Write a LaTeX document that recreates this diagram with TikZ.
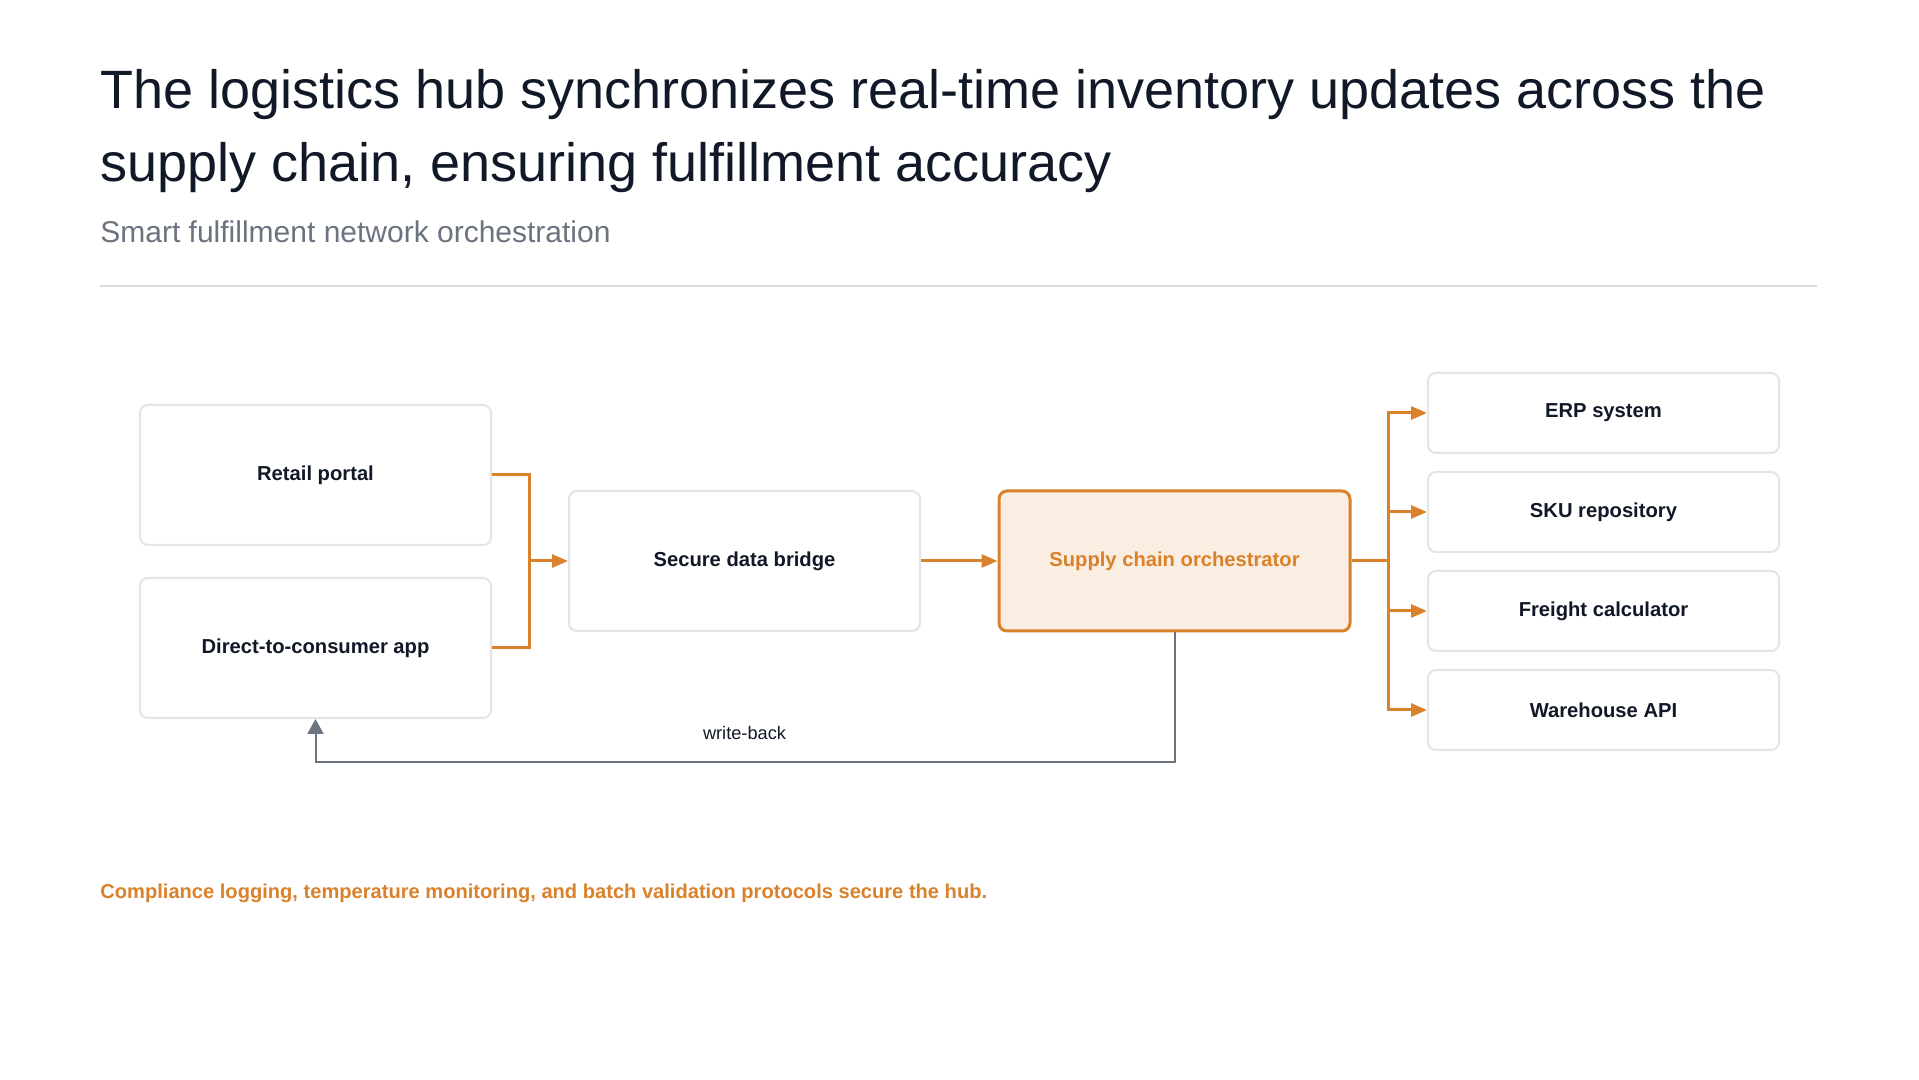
\documentclass[tikz,border=0pt]{standalone}
\usepackage{fontspec}
\setmainfont{Liberation Sans}
\usetikzlibrary{arrows.meta}
\definecolor{ink}{HTML}{111827}
\definecolor{subgray}{HTML}{6B7280}
\definecolor{rulegray}{HTML}{D9DBE0}
\definecolor{boxgray}{HTML}{E3E5E9}
\definecolor{accent}{HTML}{D9822B}
\definecolor{accentfill}{HTML}{FAEDE2}
\definecolor{linkgray}{HTML}{6B7280}
\begin{document}
\begin{tikzpicture}[x=0.5pt,y=-0.5pt,
  card/.style={draw=boxgray,line width=1pt,rounded corners=4pt,fill=white,
    minimum width=175.5pt,minimum height=70pt,inner sep=0pt,
    font=\fontsize{10.1pt}{12pt}\selectfont\bfseries,text=ink},
  smallcard/.style={card,minimum height=40pt},
  hubcard/.style={card,draw=accent,line width=1.5pt,fill=accentfill,text=accent},
  flow/.style={draw=accent,line width=1.5pt},
  flowarrow/.style={flow,-{Triangle[length=8pt,width=6.5pt]}},
  backarrow/.style={draw=linkgray,line width=1pt,-{Triangle[length=7.5pt,width=8pt]}}
]
\useasboundingbox[fill=white] (0,0) rectangle (1919,1080);

% header
\node[anchor=base west,inner sep=0pt,text=ink,font=\fontsize{27pt}{32pt}\selectfont] (title1) at (100,109)
  {The logistics hub synchronizes real-time inventory updates across the};
\node[anchor=base west,inner sep=0pt,text=ink,font=\fontsize{27pt}{32pt}\selectfont] (title2) at (100,182)
  {supply chain, ensuring fulfillment accuracy};
\node[anchor=base west,inner sep=0pt,text=subgray,font=\fontsize{15pt}{17pt}\selectfont] (subtitle) at (100,243)
  {Smart fulfillment network orchestration};
\coordinate (ruleL) at (100,286);
\coordinate (ruleR) at (1817,286);
\draw[rulegray,line width=1.3pt] (ruleL) -- (ruleR);

% nodes
\node[card] (retail) at (315.5,475) {Retail portal};
\node[card] (dtc) at (315.5,648) {Direct-to-consumer app};
\node[card] (bridge) at (744.5,561) {Secure data bridge};
\node[hubcard] (orch) at (1174.5,561) {Supply chain orchestrator};
\node[smallcard] (erp) at (1603.5,413) {ERP system};
\node[smallcard] (sku) at (1603.5,512) {SKU repository};
\node[smallcard] (freight) at (1603.5,611) {Freight calculator};
\node[smallcard] (wh) at (1603.5,710) {Warehouse API};

% inbound merge
\coordinate (j1) at (529,561);
\draw[flow] (retail.east) -| (j1);
\draw[flow] (dtc.east) -| (j1);
\draw[flowarrow] (j1) -- (bridge.west);
\draw[flowarrow] (bridge.east) -- (orch.west);

% fan-out
\coordinate (j2) at (1388,561);
\draw[flow] (orch.east) -- (j2);
\draw[flowarrow] (j2) |- (erp.west);
\draw[flowarrow] (j2) |- (sku.west);
\draw[flowarrow] (j2) |- (freight.west);
\draw[flowarrow] (j2) |- (wh.west);

% write-back
\coordinate (wb) at (1174.5,762);
\draw[backarrow] (orch.south) -- (wb) -| (dtc.south);
\node[text=ink,font=\fontsize{9.1pt}{10pt}\selectfont,inner sep=0pt] (wblabel) at (744.5,733) {write-back};

% footer
\node[anchor=base west,inner sep=0pt,text=accent,font=\fontsize{10.05pt}{12pt}\selectfont\bfseries] (footer) at (100,898)
  {Compliance logging, temperature monitoring, and batch validation protocols secure the hub.};
\end{tikzpicture}
\end{document}
